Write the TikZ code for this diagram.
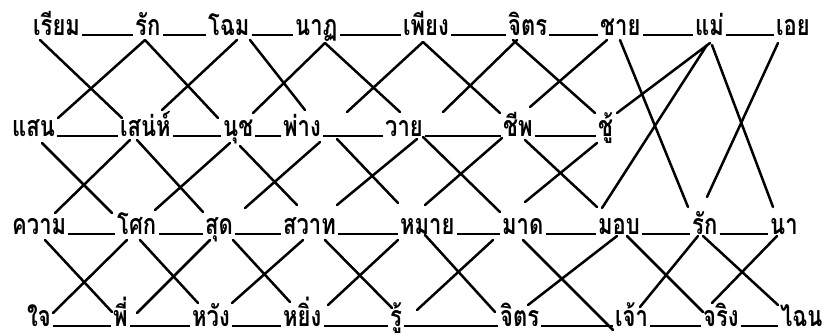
\documentclass[tikz,border=0pt]{standalone}
\usepackage{fontspec}
\newfontfamily\thaifont[Script=Thai]{Loma}
\usetikzlibrary{calc}
\tikzset{
  word/.style={anchor=base west, inner sep=0pt, font=\thaifont\bfseries\fontsize{22}{26}\selectfont},
  link/.style={line width=2.5pt, line cap=round},
  bar/.style={line width=2pt}
}
\newcommand\tword[1]{\raisebox{0pt}[\height][0pt]{\scalebox{1}[1.3]{#1}}}
\newcommand\lnk[4]{\draw[link] ($(#1.base west)+(#2)$) -- ($(#3.base west)+(#4)$);}
\newcommand\bars[2]{\draw[bar] ([xshift=2pt]#1.base east) -- ([xshift=-2pt]#2.base west);}
\begin{document}
\begin{tikzpicture}[x=1pt,y=-1pt]
\useasboundingbox (0,0) rectangle (833,335);
% row 1
\node[word] (w11) at (33,35) {\tword{เรียม}};
\node[word] (w12) at (135,35) {\tword{รัก}};
\node[word] (w13) at (208,35) {\tword{โฉม}};
\node[word] (w14) at (295,35) {\tword{นาฏ}};
\node[word] (w15) at (403,35) {\tword{เพียง}};
\node[word] (w16) at (508,35) {\tword{จิตร}};
\node[word] (w17) at (600,35) {\tword{ชาย}};
\node[word] (w18) at (695,35) {\tword{แม่}};
\node[word] (w19) at (776,35) {\tword{เอย}};
% row 2
\node[word] (w21) at (12,136) {\tword{แสน}};
\node[word] (w22) at (120,136) {\tword{เสน่ห์}};
\node[word] (w23) at (223,136) {\tword{นุช}};
\node[word] (w24) at (283,136) {\tword{พ่าง}};
\node[word] (w25) at (385,136) {\tword{วาย}};
\node[word] (w26) at (503,136) {\tword{ชีพ}};
\node[word] (w27) at (598,136) {\tword{ชู้}};
% row 3
\node[word] (w31) at (12,234) {\tword{ความ}};
\node[word] (w32) at (117,234) {\tword{โศก}};
\node[word] (w33) at (205,234) {\tword{สุด}};
\node[word] (w34) at (283,234) {\tword{สวาท}};
\node[word] (w35) at (400,234) {\tword{หมาย}};
\node[word] (w36) at (502,234) {\tword{มาด}};
\node[word] (w37) at (598,234) {\tword{มอบ}};
\node[word] (w38) at (692,234) {\tword{รัก}};
\node[word] (w39) at (770,234) {\tword{นา}};
% row 4
\node[word] (w41) at (27,326) {\tword{ใจ}};
\node[word] (w42) at (113,326) {\tword{พี่}};
\node[word] (w43) at (192,326) {\tword{หวัง}};
\node[word] (w44) at (283,326) {\tword{หยิ่ง}};
\node[word] (w45) at (390,326) {\tword{รู้}};
\node[word] (w46) at (500,326) {\tword{จิตร}};
\node[word] (w47) at (615,326) {\tword{เจ้า}};
\node[word] (w48) at (703,326) {\tword{จริง}};
\node[word] (w49) at (780,326) {\tword{ไฉน}};
% underscores
\bars{w11}{w12}\bars{w12}{w13}\bars{w13}{w14}\bars{w14}{w15}\bars{w15}{w16}\bars{w16}{w17}\bars{w17}{w18}\bars{w18}{w19}
\bars{w21}{w22}\bars{w22}{w23}\bars{w23}{w24}\bars{w24}{w25}\bars{w25}{w26}\bars{w26}{w27}
\bars{w31}{w32}\bars{w32}{w33}\bars{w33}{w34}\bars{w34}{w35}\bars{w35}{w36}\bars{w36}{w37}\bars{w37}{w38}\bars{w38}{w39}
\bars{w41}{w42}\bars{w42}{w43}\bars{w43}{w44}\bars{w44}{w45}\bars{w45}{w46}\bars{w46}{w47}\bars{w47}{w48}\bars{w48}{w49}
% band 1
\lnk{w11}{7,5}{w22}{2,-18}
\lnk{w12}{10,5}{w21}{46,-18}
\lnk{w12}{10,5}{w23}{-5,-18}
\lnk{w13}{29,5}{w22}{42,-26}
\lnk{w13}{42,5}{w24}{22,-26}
\lnk{w14}{30,8}{w23}{30,-23}
\lnk{w14}{30,8}{w25}{15,-24}
\lnk{w15}{20,7}{w25}{-38,-24}
\lnk{w15}{20,7}{w26}{-3,-23}
\lnk{w16}{9,5}{w25}{58,-24}
\lnk{w16}{5,5}{w27}{-3,-23}
\lnk{w17}{7,5}{w26}{27,-29}
\lnk{w17}{20,5}{w38}{-4,-27}
\lnk{w18}{15,8}{w27}{19,-23}
\lnk{w18}{12,10}{w37}{4,-26}
\lnk{w18}{17,10}{w39}{3,-27}
\lnk{w19}{2,8}{w38}{15,-37}
% band 2
\lnk{w21}{30,7}{w32}{-5,-21}
\lnk{w22}{10,4}{w31}{43,-21}
\lnk{w22}{17,4}{w33}{-2,-22}
\lnk{w23}{7,7}{w32}{38,-24}
\lnk{w23}{17,10}{w34}{14,-29}
\lnk{w24}{37,6}{w33}{40,-26}
\lnk{w24}{54,3}{w35}{-2,-31}
\lnk{w25}{32,3}{w34}{54,-29}
\lnk{w25}{38,1}{w36}{-2,-22}
\lnk{w26}{-1,2}{w35}{25,-29}
\lnk{w26}{22,4}{w37}{-1,-27}
\lnk{w27}{-1,7}{w36}{23,-32}
% band 3
\lnk{w31}{33,6}{w42}{-1,-14}
\lnk{w32}{10,6}{w41}{26,-13}
\lnk{w32}{23,6}{w43}{6,-23}
\lnk{w33}{5,6}{w42}{24,-13}
\lnk{w33}{28,6}{w44}{7,-24}
\lnk{w34}{20,6}{w43}{40,-23}
\lnk{w34}{42,6}{w45}{2,-18}
\lnk{w35}{-2,6}{w44}{45,-21}
\lnk{w35}{25,1}{w46}{-5,-14}
\lnk{w36}{-9,6}{w45}{27,-16}
\lnk{w36}{21,6}{w47}{-2,4}
\lnk{w37}{19,2}{w46}{28,-21}
\lnk{w37}{29,2}{w48}{0,-14}
\lnk{w38}{6,2}{w47}{25,-19}
\lnk{w38}{11,2}{w49}{-2,-21}
\lnk{w39}{7,2}{w48}{9,-23}
\end{tikzpicture}
\end{document}
